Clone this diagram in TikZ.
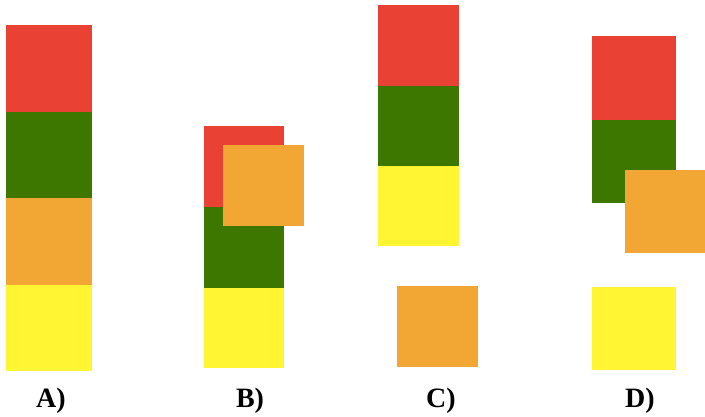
\documentclass[tikz,border=0pt]{standalone}
\usepackage{fontspec}
\setmainfont{Liberation Serif}
\definecolor{cred}{RGB}{233,65,52}
\definecolor{cgreen}{RGB}{62,119,0}
\definecolor{corange}{RGB}{242,166,52}
\definecolor{cyellow}{RGB}{255,245,51}
\tikzset{
  blk/.style={inner sep=0pt, outer sep=0pt, anchor=north west},
  lbl/.style={anchor=base, inner sep=0pt, font=\fontsize{28}{30}\selectfont\bfseries}
}
\newcommand{\blkbox}[6]{% name, colour, x0, y0, x1, y1
  \fill[#2] (#3,#4) rectangle (#5,#6);
  \coordinate (#1) at ({(#3+#5)/2},{(#4+#6)/2});
}
\begin{document}
\begin{tikzpicture}[x=1pt,y=-1pt]
\useasboundingbox (0,0) rectangle (705,417);
% A: full stack
\blkbox{aR}{cred}{6}{25}{92}{112}
\blkbox{aG}{cgreen}{6}{112}{92}{198}
\blkbox{aO}{corange}{6}{198}{92}{285}
\blkbox{aY}{cyellow}{6}{285}{92}{371}
% B: orange block lying over the red one
\blkbox{bR}{cred}{204}{126}{284}{207}
\blkbox{bG}{cgreen}{204}{207}{284}{288}
\blkbox{bY}{cyellow}{204}{288}{284}{368}
\blkbox{bO}{corange}{223}{145}{304}{226}
% C: orange block pulled out below
\blkbox{cR}{cred}{378}{5}{459}{86}
\blkbox{cG}{cgreen}{378}{86}{459}{166}
\blkbox{cY}{cyellow}{378}{166}{459}{246}
\blkbox{cO}{corange}{397}{286}{478}{367}
% D: orange block slipping out, yellow below
\blkbox{dR}{cred}{592}{36}{676}{120}
\blkbox{dG}{cgreen}{592}{120}{676}{203}
\blkbox{dO}{corange}{625}{170}{705}{253}
\blkbox{dY}{cyellow}{592}{287}{676}{370}
% captions
\node[lbl] (la) at (51,407) {A)};
\node[lbl] (lb) at (250,407) {B)};
\node[lbl] (lc) at (441,407) {C)};
\node[lbl] (ld) at (640,407) {D)};
\end{tikzpicture}
\end{document}
